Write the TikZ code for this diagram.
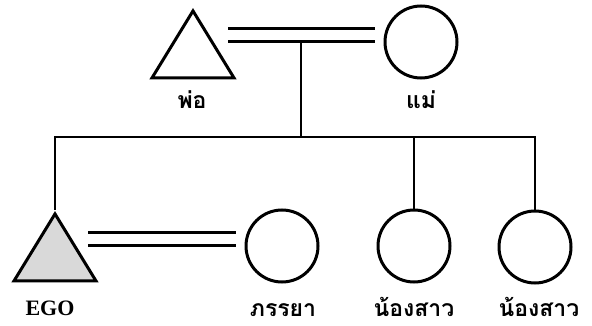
\documentclass[tikz,border=0pt]{standalone}
\usepackage{fontspec}
\setmainfont{Liberation Serif}
\newfontfamily\thaifont[Script=Thai]{Loma}
\usetikzlibrary{shapes.geometric}
\usetikzlibrary{positioning}
\tikzset{male/.style = {draw, line width=3pt, isosceles triangle,
                        isosceles triangle stretches, shape border rotate=90,
                        inner sep=0, minimum width=82pt, minimum height=67pt}}
\tikzset{female/.style = {draw, circle, line width=3pt, inner sep=0, minimum size=72pt}}
\tikzset{marriage/.style = {double, double distance=9.5pt, line width=3pt}}
\tikzset{kin/.style = {line width=2.6pt}}
\tikzset{thai/.style = {font=\thaifont\bfseries\fontsize{23}{23}\selectfont, inner sep=0, anchor=base}}
\tikzset{latin/.style = {font=\bfseries\fontsize{22}{22}\selectfont, inner sep=0, anchor=base}}

\begin{document}
\begin{tikzpicture}[x=1pt, y=-1pt]
      \useasboundingbox (0, 0) rectangle (592, 326);
      \node [male, anchor=apex] (father) at (193, 7) {};
      \node [female] (mother) at (421, 42) {};
      \node [male, anchor=apex, fill=gray!30] (ego) at (55, 210) {};
      \node [female] (wife) at (282, 246) {};
      \node [female] (sister1) at (414, 246) {};
      \node [female] (sister2) at (535, 247) {};
      \node [thai] (fatherlabel) at (192, 109) {พ่อ};
      \node [thai] (motherlabel) at (421, 109) {แม่};
      \node [latin] (egolabel) at (50, 315) {EGO};
      \node [thai] (wifelabel) at (283, 316) {ภรรยา};
      \node [thai] (sister1label) at (414, 316) {น้องสาว};
      \node [thai] (sister2label) at (539, 316) {น้องสาว};
      % marriage lines
      \coordinate (m1) at (228, 35);
      \coordinate (m2) at (375, 35);
      \coordinate (m3) at (88, 239);
      \coordinate (m4) at (236, 239);
      \draw [marriage] (m1) -- (m2);
      \draw [marriage] (m3) -- (m4);
      % descent
      \coordinate (union) at (301, 41);
      \coordinate (sibs) at (301, 137);
      \draw [kin] (union) -- (sibs);
      \draw [kin] (ego.apex) |- (sibs) -| (sister2.north);
      \draw [kin] (sister1.north) -- (sister1.north |- sibs);
    \end{tikzpicture}
\end{document}
